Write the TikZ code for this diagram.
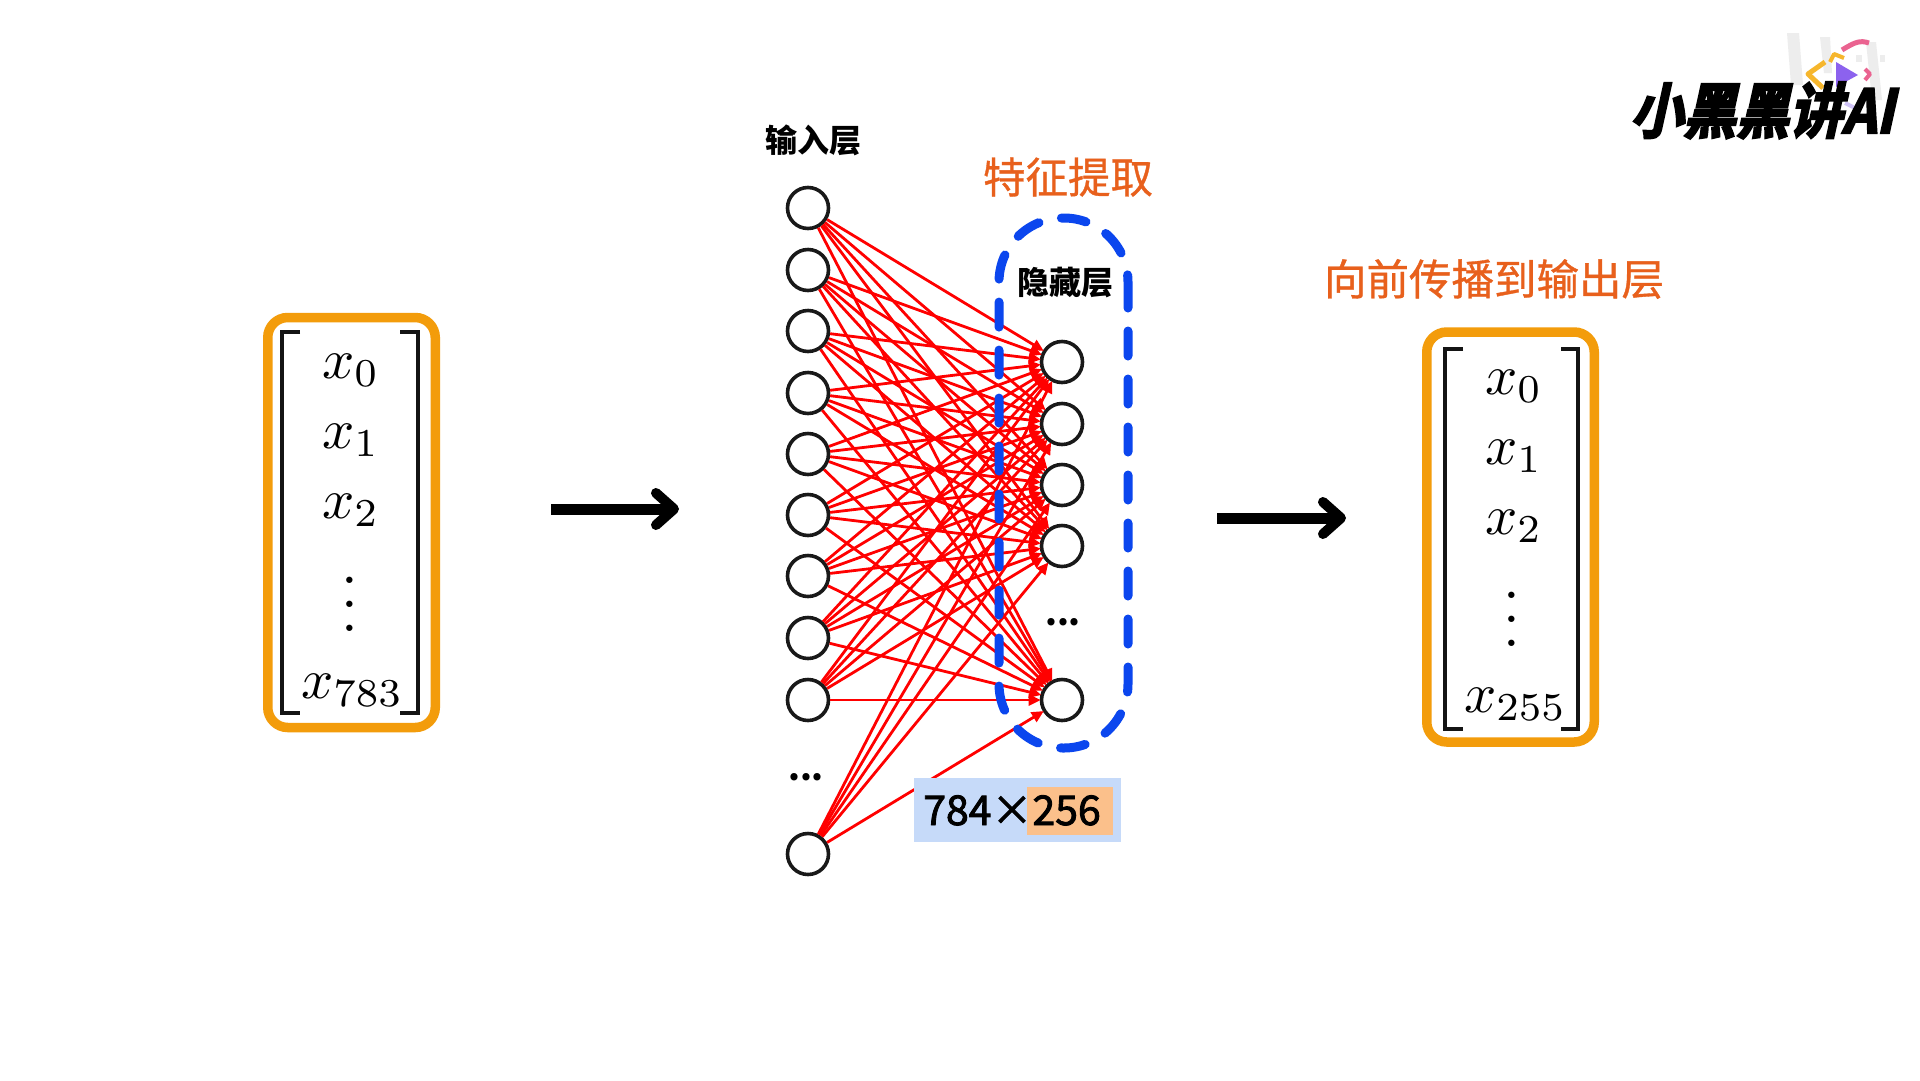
\documentclass[tikz,border=0pt]{standalone}
\usepackage{fontspec}
\usetikzlibrary{arrows.meta}
\newfontfamily\cjk{Noto Sans CJK SC}
\newfontfamily\cjkmed[FakeBold=0.8]{Noto Sans CJK SC}
\newfontfamily\cjkheavy[FakeBold=2.2]{Noto Sans CJK SC}
\newfontfamily\cjklogo[FakeBold=4]{Noto Sans CJK SC Bold}
\definecolor{boxorange}{HTML}{F39C0B}
\definecolor{titleorange}{HTML}{E8601C}
\definecolor{dashblue}{HTML}{0B46EE}
\definecolor{lblue}{HTML}{C6DAF9}
\definecolor{lorange}{HTML}{FBC08B}
\definecolor{logopurple}{HTML}{8C62EE}
\definecolor{logopink}{HTML}{EA6390}
\definecolor{logoyellow}{HTML}{F6B62C}
\definecolor{logolav}{HTML}{CFC3F6}
\tikzset{
  neuron/.style={circle,draw=black!90,line width=3.6pt,minimum size=41pt,inner sep=0pt,fill=none},
  edge/.style={draw=red,line width=2.8pt,-{Triangle[length=12pt,width=11pt]},shorten >=-1pt},
  box/.style={draw=boxorange,line width=9.5pt,rounded corners=20pt,minimum width=167.5pt,minimum height=410pt,inner sep=0pt},
  bracket/.style={draw=black!92,line width=3.6pt},
  mathx/.style={anchor=base west,inner sep=0pt,scale=5.65},
  vd/.style={inner sep=0pt,scale=6},
  bigarrow/.style={line width=11pt,-{Straight Barb[round,length=18pt,width=32pt,line width=10pt]}},
  title/.style={text=titleorange,inner sep=0pt,font=\cjkmed\fontsize{42.5}{42.5}\selectfont},
  layertext/.style={text=black,inner sep=0pt,font=\cjk\bfseries\fontsize{32}{32}\selectfont},
  moredots/.style={text=black,inner sep=0pt,font=\cjk\bfseries\fontsize{34}{34}\selectfont},
}
\begin{document}
\begin{tikzpicture}[x=1pt,y=-1pt]
\useasboundingbox (0,0) rectangle (1920,1080);
\fill[white] (0,0) rectangle (1920,1080);

% left vector
\node[box] (lbox) at (351.5,522.5) {};
\draw[bracket] (300,332) -- (282,332) -- (282,713) -- (300,713);
\draw[bracket] (400,332) -- (418,332) -- (418,713) -- (400,713);
\node[mathx] (l0) at (321,378) {$x_0$};
\node[mathx] (l1) at (321,448) {$x_1$};
\node[mathx] (l2) at (321,518) {$x_2$};
\node[vd] (lv) at (350,586) {$\vdots$};
\node[mathx] (l3) at (300,698) {$x_{783}$};

% right vector
\node[box] (rbox) at (1510.5,537) {};
\draw[bracket] (1463,349) -- (1445,349) -- (1445,729) -- (1463,729);
\draw[bracket] (1561,349) -- (1578,349) -- (1578,729) -- (1561,729);
\node[mathx] (r0) at (1484,394) {$x_0$};
\node[mathx] (r1) at (1484,464) {$x_1$};
\node[mathx] (r2) at (1484,534) {$x_2$};
\node[vd] (rv) at (1512,601) {$\vdots$};
\node[mathx] (r3) at (1463,712) {$x_{255}$};

% arrows
\coordinate (a1s) at (551,509);
\coordinate (a1e) at (679,509);
\coordinate (a2s) at (1217,518);
\coordinate (a2e) at (1346,518);
\draw[bigarrow] (a1s) -- (a1e);
\draw[bigarrow] (a2s) -- (a2e);

% neurons
\foreach \n/\y in {1/208,2/270,3/331,4/393,5/454,6/515,7/576,8/638,9/700,10/854}
  \node[neuron] (i\n) at (808,\y) {};
\foreach \n/\y in {1/362,2/424,3/485,4/546,5/700}
  \node[neuron] (h\n) at (1062,\y) {};
\foreach \a in {1,...,10}
  \foreach \b in {1,...,5}
    \draw[edge] (i\a) -- (h\b);

% dashed region
\draw[dashblue,line width=9pt,line cap=round,rounded corners=64pt,dash pattern=on 25pt off 23pt]
  (1128,283) -- (1128,748) -- (999,748) -- (999,218) -- (1128,218) -- (1128,283);

% labels
\node[layertext] (t1) at (813,140) {输入层};
\node[layertext] (t2) at (1065,283) {隐藏层};
\node[title] (t3) at (1068,177) {特征提取};
\node[title] (t4) at (1494,279) {向前传播到输出层};
\node[moredots] (d1) at (806,777) {...};
\node[moredots] (d2) at (1063,622) {...};

% size label
\fill[lblue] (914,778) rectangle (1121,842);
\fill[lorange] (1027,787) rectangle (1113,835);
\node[inner sep=0pt,anchor=base,font=\cjkheavy\fontsize{41}{41}\selectfont] (sz) at (1012,825) {784×256};

% logo
\fill[black!7] (1787,33) -- (1799,33) -- (1803,85) -- (1791,85) -- cycle;
\fill[black!7] (1820,37) -- (1830,37) -- (1832,73) -- (1824,73) -- cycle;
\fill[black!7] (1866,42) -- (1876,42) -- (1882,100) -- (1872,100) -- cycle;
\fill[black!7] (1790,55) rectangle (1793,62);
\fill[black!7] (1856,55) rectangle (1862,62);
\fill[black!7] (1880,55) rectangle (1885,62);
\fill[logopurple] (1836,62) -- (1858,75) -- (1836,87) -- cycle;
\draw[logoyellow,line width=5pt,line join=round] (1825,62) -- (1808,74) -- (1823,88);
\draw[logoyellow,line width=4pt,line join=round] (1830,62) -- (1834,54) -- (1844,58);
\draw[logopink,line width=5pt,line join=round] (1842,50) .. controls (1855,42) and (1860,40) .. (1869,43);
\draw[logopink,line width=4pt,line join=round] (1865,69) -- (1870,74) -- (1865,80);
\draw[logolav,line width=4pt] (1845,103) -- (1857,109);
\node[inner sep=0pt,anchor=base west,xslant=0.22,xscale=0.93,yscale=1.05,font=\cjklogo\fontsize{57}{57}\selectfont] (logo) at (1630,133) {小黑黑讲AI};
\end{tikzpicture}
\end{document}
